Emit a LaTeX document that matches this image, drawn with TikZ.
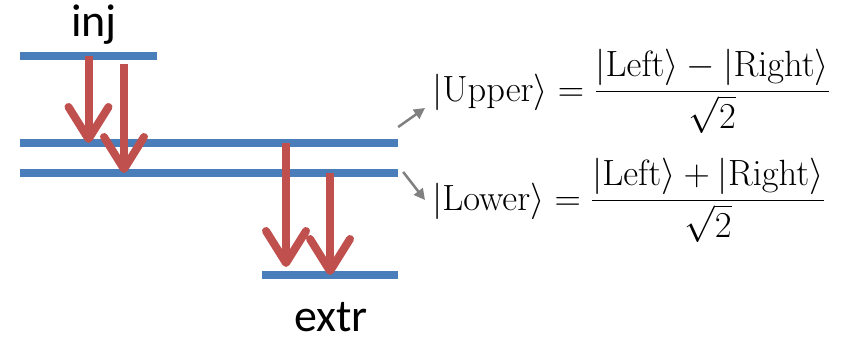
\RequirePackage{fix-cm}
\documentclass[tikz,border=0pt]{standalone}
\usepackage{amsmath}
\usepackage[no-math]{fontspec}
\newfontfamily\calibri{Carlito}
\usetikzlibrary{arrows.meta,positioning}
\definecolor{levelblue}{RGB}{74,126,187}
\definecolor{decayred}{RGB}{192,80,77}
\definecolor{pointgray}{RGB}{128,128,128}

\begin{document}
\begin{tikzpicture}[x=1pt, y=-1pt,
    levelbar/.style={rectangle, fill=levelblue, draw=none, inner sep=0pt, minimum height=8pt},
    decay/.style={draw=decayred, line width=8pt, -{Straight Barb[length=32pt, width=40pt, round]}},
    pointer/.style={draw=pointgray, line width=2.5pt, -{Triangle[length=11pt, width=11pt]}},
    lbl/.style={font=\calibri\fontsize{46}{50}\selectfont, inner sep=0pt, anchor=base},
    eqn/.style={font=\fontsize{36.5}{44}\selectfont, inner sep=0pt, anchor=base west}]
    \useasboundingbox (0,0) rectangle (850,337);
    % Energy levels
    \node[levelbar, minimum width=137pt] (lvlinj) at (88.5,56) {};
    \node[levelbar, minimum width=378pt] (lvlup) at (209,143) {};
    \node[levelbar, minimum width=378pt] (lvllow) at (209,173) {};
    \node[levelbar, minimum width=136pt] (lvlextr) at (330,275) {};
    % Labels
    \node[lbl] (inj) at (94,37) {inj};
    \node[lbl] (extr) at (331,331) {extr};
    % Eigenstates
    \node[eqn] (equp) at (432,101) {$|\mathrm{Upper}\rangle = \dfrac{|\mathrm{Left}\rangle - |\mathrm{Right}\rangle}{\sqrt{2}}$};
    \node[eqn] (eqlow) at (432,210) {$|\mathrm{Lower}\rangle = \dfrac{|\mathrm{Left}\rangle + |\mathrm{Right}\rangle}{\sqrt{2}}$};
    % Injection arrows
    \draw[decay] (lvlinj.center) -- (lvlinj.center |- lvlup.center);
    \draw[decay] ([shift={(35.5,8)}]lvlinj.center) -- ([xshift=35.5pt]lvlinj.center |- lvllow.center);
    % Extraction arrows
    \draw[decay] ([xshift=-44pt]lvlextr.center |- lvlup.center) -- ([shift={(-44,-8)}]lvlextr.center);
    \draw[decay] (lvlextr.center |- lvllow.center) -- (lvlextr.center);
    % Pointers to the states
    \draw[pointer] ([shift={(0,-16)}]lvlup.east) -- ([shift={(-7,7)}]equp.base west);
    \draw[pointer] ([shift={(5,-1)}]lvllow.east) -- ([shift={(-7,-10)}]eqlow.base west);
\end{tikzpicture}
\end{document}
